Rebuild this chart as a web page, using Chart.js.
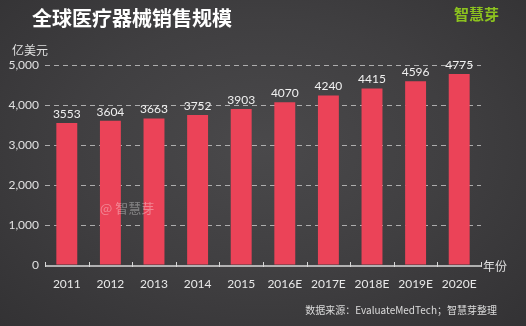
<!DOCTYPE html>
<html><head><meta charset="utf-8">
<script src="https://cdn.jsdelivr.net/npm/chart.js@4"></script>
<style>
html,body{margin:0;padding:0;width:526px;height:326px;overflow:hidden;}
#wrap{position:relative;width:526px;height:326px;background:radial-gradient(ellipse at 50% 45%,#4a494b 0%,#403f41 50%,#333234 100%);}
canvas{position:absolute;left:0;top:0;}
</style></head>
<body><div id="wrap"><canvas id="c" width="526" height="326"></canvas></div>
<script>
const categories = ["2011","2012","2013","2014","2015","2016E","2017E","2018E","2019E","2020E"];
const sales = [3553,3604,3663,3752,3903,4070,4240,4415,4596,4775];
const yTicks = [0,1000,2000,3000,4000,5000];
const titleText = "全球医疗器械销售规模";
const unitText = "亿美元";
const xAxisName = "年份";
const sourceText = "数据来源：EvaluateMedTech；智慧芽整理";
const logoText = "智慧芽";
const watermarkText = "@ 智慧芽";

const numFont = "Lato, 'Noto Sans', sans-serif";
const cjkFont = "'Noto Sans CJK SC', sans-serif";

const decor = {
  id: 'decor',
  afterDraw(chart) {
    const ctx = chart.ctx, x = chart.scales.x, y = chart.scales.y, ca = chart.chartArea;
    ctx.save();
    const y0 = y.getPixelForValue(0) + 1;
    ctx.strokeStyle = '#d8d8d8'; ctx.lineWidth = 1.5;
    ctx.beginPath(); ctx.moveTo(ca.left, y0); ctx.lineTo(ca.right + 1, y0); ctx.stroke();
    ctx.lineWidth = 1;
    for (let i = 0; i <= categories.length; i++) {
      const px = Math.round(ca.left + (ca.right - ca.left) * i / categories.length) + 0.5;
      ctx.beginPath(); ctx.moveTo(px, y0 + 1); ctx.lineTo(px, y0 - 4); ctx.stroke();
    }
    ctx.fillStyle = '#f0f0f0'; ctx.font = "12px " + numFont;
    ctx.textAlign = 'center'; ctx.textBaseline = 'bottom';
    const meta = chart.getDatasetMeta(0);
    meta.data.forEach((bar, i) => ctx.fillText(String(sales[i]), bar.x, bar.y - 3));
    ctx.textAlign = 'left'; ctx.textBaseline = 'middle';
    ctx.fillStyle = '#ffffff'; ctx.font = "bold 20px " + cjkFont;
    ctx.fillText(titleText, 32, 18);
    ctx.fillStyle = '#e0e0e0'; ctx.font = "12px " + cjkFont;
    ctx.fillText(unitText, 12, 50);
    ctx.fillText(xAxisName, ca.right + 2, y0);
    ctx.fillStyle = '#8cc21f'; ctx.font = "bold 15px " + cjkFont;
    ctx.fillText(logoText, 454, 14);
    ctx.fillStyle = 'rgba(255,255,255,0.35)'; ctx.font = "13px " + cjkFont;
    ctx.fillText(watermarkText, 100, 208);
    ctx.textAlign = 'right';
    ctx.fillStyle = '#dcdcdc'; ctx.font = "10px " + cjkFont;
    ctx.fillText(sourceText, 497, 310);
    ctx.restore();
  }
};

new Chart(document.getElementById('c'), {
  type: 'bar',
  data: { labels: categories, datasets: [{ data: sales, backgroundColor: '#eb4358', borderWidth: 0, categoryPercentage: 1.0, barPercentage: 0.48 }] },
  options: {
    responsive: false, animation: false, devicePixelRatio: 1,
    layout: { padding: { left: 0, right: 45, top: 65, bottom: 31 } },
    plugins: { legend: { display: false }, tooltip: { enabled: false } },
    scales: {
      x: {
        grid: { display: false }, border: { display: false },
        ticks: { color: '#e8e8e8', font: { family: numFont, size: 12 }, padding: 4, maxRotation: 0 },
        afterFit(s) { s.height = 30; }
      },
      y: {
        min: 0, max: 5000,
        afterBuildTicks(s) { s.ticks = yTicks.map(v => ({ value: v })); },
        afterFit(s) { s.width = 45; },
        border: { display: false, dash: [5, 4] },
        grid: {
          color: (c) => c.tick && c.tick.value === 0 ? 'rgba(0,0,0,0)' : 'rgba(210,210,210,0.75)',
          drawTicks: false, lineWidth: 1
        },
        ticks: {
          color: '#e0e0e0', font: { family: numFont, size: 12 }, padding: 6,
          callback: (v) => Number(v).toLocaleString('en-US')
        }
      }
    }
  },
  plugins: [decor]
});
</script></body></html>
